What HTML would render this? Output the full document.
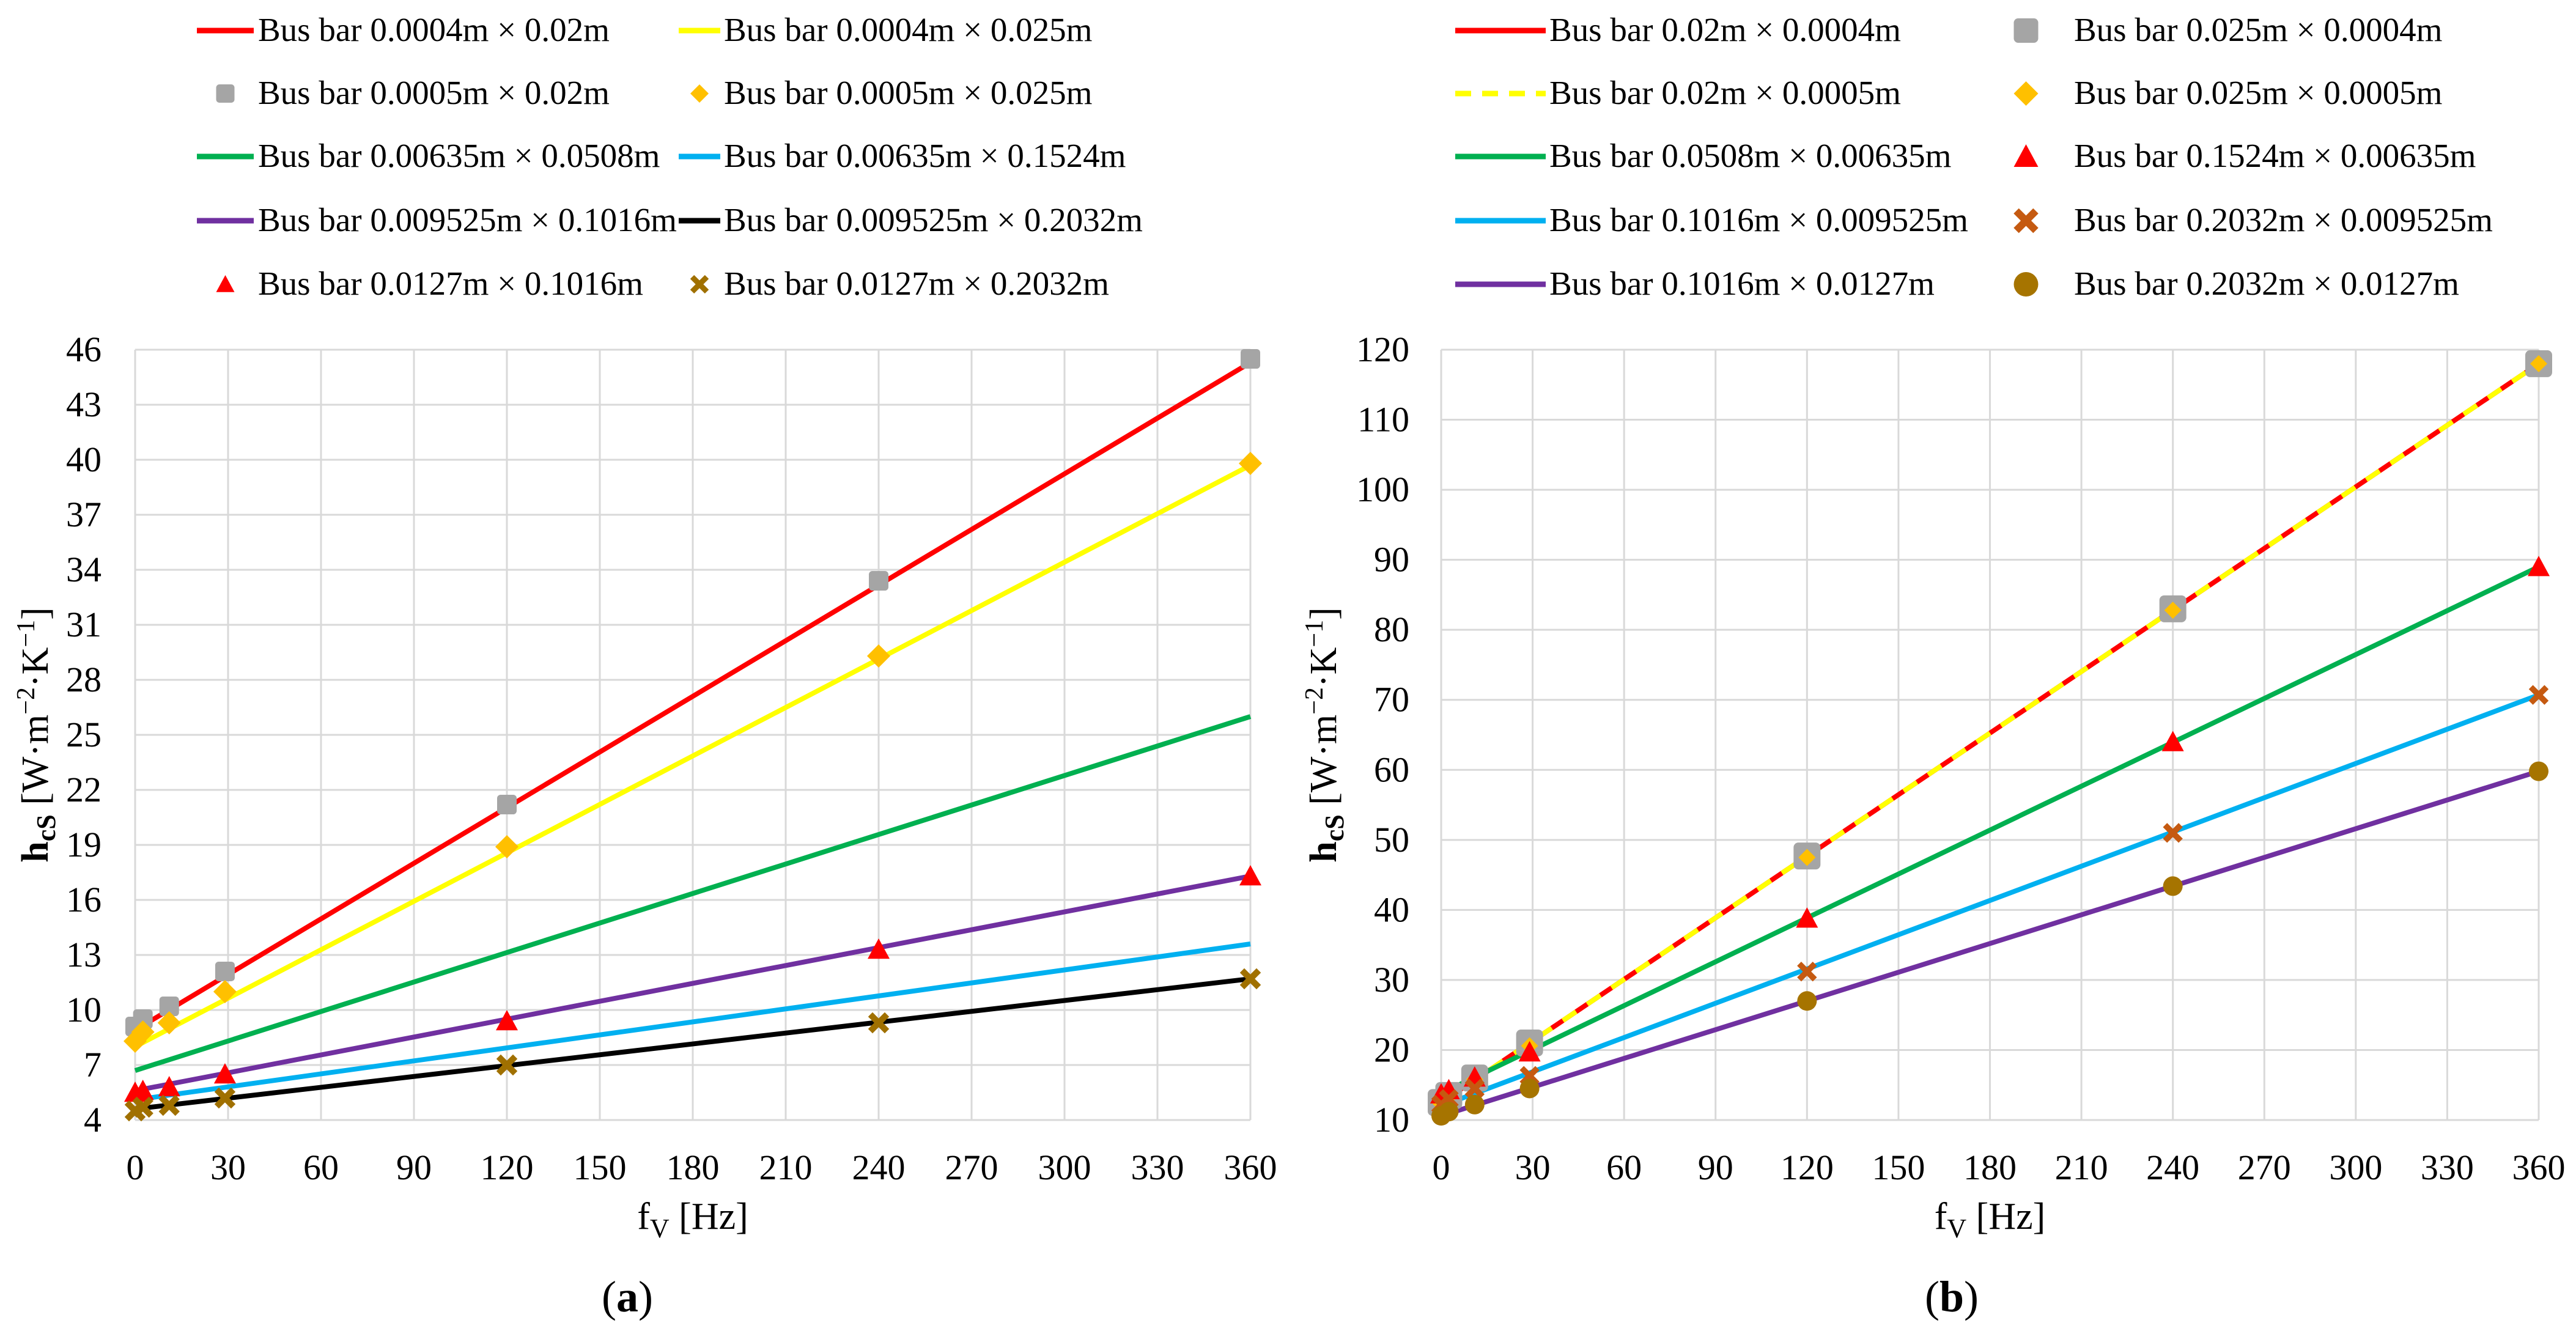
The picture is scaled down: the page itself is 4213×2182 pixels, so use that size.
<!DOCTYPE html>
<html><head><meta charset="utf-8">
<style>
html,body{margin:0;padding:0;background:#fff;}
svg{display:block;font-family:"Liberation Serif",serif;}
</style></head>
<body>
<svg id="chart" width="4213" height="2182" viewBox="0 0 4213 2182" xmlns="http://www.w3.org/2000/svg"></svg>
<script>
// ---------- shared ----------
const xTicks = [0,30,60,90,120,150,180,210,240,270,300,330,360];
const xPts = [0,2.5,11,29,120,240,360];
const xLine = [0,360];

// ---------- panel (a) data ----------
const aYTicks = [4,7,10,13,16,19,22,25,28,31,34,37,40,43,46];
const aRedLine = [8.9,45.3];
const aYellowLine = [8.0,39.7];
const aGreenLine = [6.7,26.0];
const aBlueLine = [5.1,13.6];
const aPurpleLine = [5.6,17.3];
const aBlackLine = [4.6,11.7];
const aGraySquares = [9.1,9.5,10.2,12.1,21.2,33.4,45.5];
const aDiamonds = [8.3,8.8,9.3,11.0,18.9,29.3,39.8];
const aTriangles = [5.5,5.6,5.8,6.5,9.4,13.3,17.3];
const aCrosses = [4.5,4.7,4.8,5.2,7.0,9.3,11.7];

// ---------- panel (b) data ----------
const bYTicks = [10,20,30,40,50,60,70,80,90,100,110,120];
const bRedLine = [12.5,118];
const bYellowLine = [12.5,118];
const bGreenLine = [13.8,89];
const bBlueLine = [12.0,70.7];
const bPurpleLine = [10.6,59.8];
const bGraySquares = [12.5,13.5,16.0,21.0,47.7,83.0,118.0];
const bDiamonds = [12.3,13.3,15.8,20.6,47.5,82.8,118.0];
const bTriangles = [13.7,14.3,16.1,19.7,38.8,64.0,89.0];
const bCrosses = [12.2,13.0,14.5,16.3,31.2,51.0,70.7];
const bCircles = [10.6,11.2,12.2,14.5,27.0,43.4,59.8];

const NS = "http://www.w3.org/2000/svg";
const svg = document.getElementById('chart');
function mk(tag, attrs, parent){
  const e = document.createElementNS(NS, tag);
  for (const k in attrs) e.setAttribute(k, attrs[k]);
  (parent||svg).appendChild(e);
  return e;
}

function marker(g, type, cx, cy, color, size){
  let e;
  if (type==='square'){
    e = mk('rect',{x:cx-size/2,y:cy-size/2,width:size,height:size,rx:size*0.18,fill:color},g);
  } else if (type==='diamond'){
    const s=size/2;
    e = mk('polygon',{points:`${cx},${cy-s} ${cx+s},${cy} ${cx},${cy+s} ${cx-s},${cy}`,fill:color},g);
  } else if (type==='triangle'){
    const s=size/2;
    e = mk('polygon',{points:`${cx},${cy-s} ${cx+s},${cy+s*0.85} ${cx-s},${cy+s*0.85}`,fill:color},g);
  } else if (type==='cross'){
    const s=size/2*0.8;
    e = mk('path',{d:`M${cx-s},${cy-s}L${cx+s},${cy+s}M${cx+s},${cy-s}L${cx-s},${cy+s}`,stroke:color,'stroke-width':size*0.3,fill:'none'},g);
  } else {
    e = mk('circle',{cx:cx,cy:cy,r:size/2,fill:color},g);
  }
  return e;
}

function panel(cfg){
  const {id,L,R,T,B,yMin,yMax,yTicks,lines,scatters,labelRight,yTitleX,caption,capX} = cfg;
  const g = mk('g',{});
  
  
  const X = v => L + (v-0)/(360-0)*(R-L);
  const Y = v => B - (v-yMin)/(yMax-yMin)*(B-T);
  const grid = mk('g',{stroke:'#d9d9d9','stroke-width':3},g);
  
  
  yTicks.forEach(t=>{ mk('line',{x1:L,x2:R,y1:Y(t),y2:Y(t)},grid); });
  xTicks.forEach(t=>{ mk('line',{x1:X(t),x2:X(t),y1:T,y2:B},grid); });
  const yl = mk('g',{'font-size':58,'text-anchor':'end',fill:'#000'},g);
  
  
  yTicks.forEach(t=>{ const tx=mk('text',{x:labelRight,y:Y(t)+19},yl); tx.textContent=t; });
  const xl = mk('g',{'font-size':58,'text-anchor':'middle',fill:'#000'},g);
  
  
  xTicks.forEach(t=>{ const tx=mk('text',{x:X(t),y:B+97},xl); tx.textContent=t; });
  lines.forEach(ln=>{
    const p = mk('line',{x1:X(xLine[0]),y1:Y(ln.v[0]),x2:X(xLine[1]),y2:Y(ln.v[1]),stroke:ln.c,'stroke-width':8},g);
    if (ln.dash) p.setAttribute('stroke-dasharray', ln.dash);
    
    
  });
  scatters.forEach(sc=>{
    const sg = mk('g',{},g);
    
    
    sc.v.forEach((v,i)=>{
      const m = marker(sg, sc.t, X(xPts[i]), Y(v), sc.c, sc.s);
      
      
    });
  });
  const cx=(L+R)/2;
  const xt = mk('text',{x:cx,y:2010,'font-size':62,'text-anchor':'middle'},g);
  
  
  xt.innerHTML = 'f<tspan font-size="44" dy="14">V</tspan><tspan dy="-14"> [Hz]</tspan>';
  const cy=(T+B)/2;
  const yt = mk('text',{x:0,y:0,'font-size':62,'text-anchor':'middle',transform:`translate(${yTitleX},${cy}) rotate(-90)`},g);
  
  
  yt.innerHTML = '<tspan font-weight="bold">h</tspan><tspan font-size="44" dy="12" font-weight="bold">cS</tspan><tspan dy="-12"> [W·m</tspan><tspan font-size="42" dy="-22">−2</tspan><tspan dy="22">·K</tspan><tspan font-size="42" dy="-22">−1</tspan><tspan dy="22">]</tspan>';
  const cap = mk('text',{x:capX,y:2145,'font-size':72,'text-anchor':'middle'},g);
  
  
  cap.innerHTML = '(<tspan font-weight="bold">'+caption+'</tspan>)';
}

panel({id:'panel-a',L:221,R:2045,T:572,B:1832,yMin:4,yMax:46,yTicks:aYTicks,labelRight:166,yTitleX:78,caption:'a',capX:1026,
  lines:[
    {name:'line-a-0004x002',v:aRedLine,c:'#ff0000'},
    {name:'line-a-0004x0025',v:aYellowLine,c:'#ffff00'},
    {name:'line-a-00635x00508',v:aGreenLine,c:'#00b050'},
    {name:'line-a-00635x01524',v:aBlueLine,c:'#00b0f0'},
    {name:'line-a-009525x01016',v:aPurpleLine,c:'#7030a0'},
    {name:'line-a-009525x02032',v:aBlackLine,c:'#000000'}],
  scatters:[
    {name:'points-a-0005x002',v:aGraySquares,t:'square',c:'#a5a5a5',s:32},
    {name:'points-a-0005x0025',v:aDiamonds,t:'diamond',c:'#ffc000',s:38},
    {name:'points-a-00127x01016',v:aTriangles,t:'triangle',c:'#ff0000',s:36},
    {name:'points-a-00127x02032',v:aCrosses,t:'cross',c:'#a07000',s:34}]
});
panel({id:'panel-b',L:2357,R:4152,T:572,B:1832,yMin:10,yMax:120,yTicks:bYTicks,labelRight:2305,yTitleX:2185,caption:'b',capX:3192,
  lines:[
    {name:'line-b-002x00004',v:bRedLine,c:'#ff0000'},
    {name:'line-b-002x00005',v:bYellowLine,c:'#ffff00',dash:'26 22'},
    {name:'line-b-00508x000635',v:bGreenLine,c:'#00b050'},
    {name:'line-b-01016x0009525',v:bBlueLine,c:'#00b0f0'},
    {name:'line-b-01016x00127',v:bPurpleLine,c:'#7030a0'}],
  scatters:[
    {name:'points-b-0025x00004',v:bGraySquares,t:'square',c:'#a5a5a5',s:44},
    {name:'points-b-0025x00005',v:bDiamonds,t:'diamond',c:'#ffc000',s:28},
    {name:'points-b-01524x000635',v:bTriangles,t:'triangle',c:'#ff0000',s:36},
    {name:'points-b-02032x0009525',v:bCrosses,t:'cross',c:'#c55a11',s:32},
    {name:'points-b-02032x00127',v:bCircles,t:'circle',c:'#a67400',s:32}]
});

// ---------- legends ----------
const legendRows = [67,170,273,378,482];
const legendA1 = ['Bus bar 0.0004m × 0.02m','Bus bar 0.0005m × 0.02m','Bus bar 0.00635m × 0.0508m','Bus bar 0.009525m × 0.1016m','Bus bar 0.0127m × 0.1016m'];
const legendA2 = ['Bus bar 0.0004m × 0.025m','Bus bar 0.0005m × 0.025m','Bus bar 0.00635m × 0.1524m','Bus bar 0.009525m × 0.2032m','Bus bar 0.0127m × 0.2032m'];
const legendB1 = ['Bus bar 0.02m × 0.0004m','Bus bar 0.02m × 0.0005m','Bus bar 0.0508m × 0.00635m','Bus bar 0.1016m × 0.009525m','Bus bar 0.1016m × 0.0127m'];
const legendB2 = ['Bus bar 0.025m × 0.0004m','Bus bar 0.025m × 0.0005m','Bus bar 0.1524m × 0.00635m','Bus bar 0.2032m × 0.009525m','Bus bar 0.2032m × 0.0127m'];
const symA1 = [['line','#ff0000'],['square','#a5a5a5'],['line','#00b050'],['line','#7030a0'],['triangle','#ff0000']];
const symA2 = [['line','#ffff00'],['diamond','#ffc000'],['line','#00b0f0'],['line','#000000'],['cross','#a07000']];
const symB1 = [['line','#ff0000'],['dash','#ffff00'],['line','#00b050'],['line','#00b0f0'],['line','#7030a0']];
const symB2 = [['square','#a5a5a5'],['diamond','#ffc000'],['triangle','#ff0000'],['cross','#c55a11'],['circle','#a67400']];

function legend(name, labels, syms, x0, x1, tx, msize){
  const g = mk('g',{'font-size':55});
  
  
  labels.forEach((lab,i)=>{
    const eg = mk('g',{},g);
    
    
    const y = legendRows[i], my = y-17;
    const [t,c] = syms[i];
    if (t==='line') mk('line',{x1:x0,x2:x1,y1:my,y2:my,stroke:c,'stroke-width':9},eg);
    else if (t==='dash') mk('line',{x1:x0,x2:x1,y1:my,y2:my,stroke:c,'stroke-width':9,'stroke-dasharray':'26 18'},eg);
    else marker(eg,t,(x0+x1)/2,my,c,msize);
    const tt = mk('text',{x:tx,y:y},eg);
    tt.textContent = lab;
  });
}
legend('legend-a-col1',legendA1,symA1,322,415,422,30);
legend('legend-a-col2',legendA2,symA2,1110,1178,1184,30);
legend('legend-b-col1',legendB1,symB1,2380,2528,2534,30);
legend('legend-b-col2',legendB2,symB2,3272,3355,3392,40);
</script>
</body></html>
